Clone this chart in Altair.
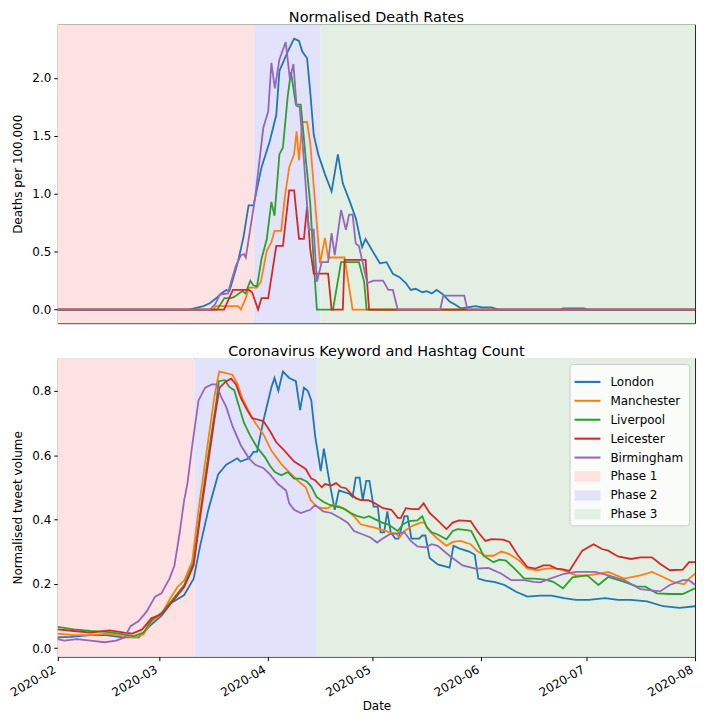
import altair as alt
import pandas as pd

START = pd.Timestamp("2020-02-01")

cities = ["London", "Manchester", "Liverpool", "Leicester", "Birmingham"]
phases = ["Phase 1", "Phase 2", "Phase 3"]
city_colors = ["#1f77b4", "#ff7f0e", "#2ca02c", "#d62728", "#9467bd"]
phase_colors = ["#fde2e3", "#e2e2fb", "#e3efe3"]

month_ticks = ["2020-02-01", "2020-03-01", "2020-04-01", "2020-05-01",
               "2020-06-01", "2020-07-01", "2020-08-01"]

# ---------------- deaths (days since 2020-02-01, deaths per 100,000) -------------
london_death_day = [0, 37.5, 41.6, 43.4, 45.3, 46.7, 48.1, 49.0, 50.0, 51.5, 53.0, 54.5, 55.9, 58.2, 60.5,
                    62.4, 63.3, 65.7, 67.5, 68.9, 69.8, 71.2, 72.1, 73.1, 74.4, 76.3, 78.2, 80.0, 81.4, 83.2,
                    85.1, 86.9, 87.9, 90.2, 92.0, 93.9, 95.7, 97.6, 99.4, 100.8, 102.2, 104.1, 105.4, 106.8, 108.2,
                    110.1, 111.9, 113.7, 115.2, 117.0, 119.3, 121.2, 123.9, 125.8, 143.5, 144.3, 150.3, 151.2, 182]
london_death = [0, 0, 0.03, 0.055, 0.10, 0.14, 0.17, 0.16, 0.26, 0.42, 0.62, 0.90, 0.90, 1.23, 1.45,
                1.68, 2.06, 2.23, 2.34, 2.32, 2.23, 2.17, 1.88, 1.51, 1.34, 1.17, 1.02, 1.34, 1.09, 0.95,
                0.79, 0.54, 0.61, 0.49, 0.40, 0.41, 0.31, 0.28, 0.23, 0.17, 0.18, 0.15, 0.16, 0.14, 0.17,
                0.13, 0.07, 0.04, 0.01, 0.02, 0.03, 0.02, 0.02, 0, 0, 0.01, 0.01, 0, 0]

manchester_death_day = [0, 44.5, 45, 50.5, 51.5, 52.3, 53.7, 54.6, 56.9, 58.0, 59.7, 61.0, 61.9, 63.8, 64.8,
                        66.1, 67.5, 68.2, 68.9, 69.8, 71.2, 72.1, 73.5, 74.9, 76.3, 77.2, 81.9, 84.2, 182]
manchester_death = [0, 0, 0.03, 0.03, 0.03, 0.0, 0.10, 0.19, 0.19, 0.24, 0.51, 0.58, 0.68, 0.68, 0.96,
                    1.23, 1.34, 1.54, 1.29, 1.62, 1.62, 1.44, 0.92, 0.40, 0.62, 0.45, 0.45, 0, 0]

liverpool_death_day = [0, 45.5, 47.6, 49.5, 50.4, 52.7, 53.6, 55.0, 55.8, 56.9, 58.2, 59.7, 61.0, 61.9, 63.3,
                       64.3, 65.7, 66.6, 68.0, 69.4, 70.8, 72.1, 73.1, 74.0, 78.6, 80.9, 86.0, 87.5, 88.2, 182]
liverpool_death = [0, 0, 0.10, 0.10, 0.11, 0.16, 0.14, 0.25, 0.21, 0.20, 0.44, 0.61, 0.93, 0.81, 1.34,
                   1.40, 1.85, 2.05, 1.77, 1.77, 1.31, 0.92, 0.41, 0, 0, 0.41, 0.41, 0.24, 0, 0]

leicester_death_day = [0, 47.5, 50.0, 54.6, 55.5, 57.2, 58.2, 60.1, 62.4, 64.3, 66.1, 67.5, 68.9, 70.3, 71.2,
                       72.1, 73.1, 77.2, 78.2, 81.4, 81.9, 87.9, 88.9, 182]
leicester_death = [0, 0, 0.17, 0.17, 0.15, 0.0, 0.10, 0.10, 0.55, 0.55, 1.03, 1.03, 0.61, 0.61, 0.89,
                   0.52, 0.31, 0.31, 0, 0, 0.43, 0.43, 0, 0]

birmingham_death_day = [0, 43.5, 45.0, 46.3, 48.6, 49.5, 50.9, 52.3, 53.2, 53.7, 56.4, 58.7, 60.1, 61.0, 62.0,
                        63.3, 65.1, 66.3, 67.3, 68.2, 69.1, 70.3, 71.7, 73.1, 74.0, 75.4, 77.2, 78.2, 79.1, 80.9,
                        82.3, 83.2, 84.2, 85.1, 86.0, 88.4, 90.2, 92.9, 94.4, 95.7, 97.1, 109.2, 110.1, 116.1,
                        117.0, 182]
birmingham_death = [0, 0, 0.05, 0.13, 0.14, 0.24, 0.38, 0.47, 0.48, 0.45, 0.975, 1.57, 1.71, 2.13, 1.91,
                    2.16, 2.31, 1.99, 2.12, 1.76, 1.75, 1.29, 0.69, 0.69, 0.24, 0.41, 0.41, 0.66, 0.47, 0.86,
                    0.69, 0.82, 0.82, 0.57, 0.55, 0.23, 0.25, 0.25, 0.17, 0.17, 0, 0, 0.12, 0.12,
                    0, 0]

# ---------------- tweets (days since 2020-02-01, normalised volume) -------------
london_tweet_day = [0, 3.7, 9.3, 13.9, 18.5, 23.1, 26.8, 29.6, 32.4, 36.1, 38.8, 40.7, 43.0, 45.8, 48.1,
                    51.3, 52.2, 54.6, 55.9, 56.9, 58.7, 61.0, 61.9, 63.0, 64.3, 66.1, 68.0, 69.2, 70.3, 71.4,
                    72.4, 73.5, 75.1, 76.0, 77.7, 79.1, 80.3, 83.2, 84.2, 85.1, 86.2, 87.1, 88.1, 89.0, 90.2,
                    91.4, 92.2, 93.2, 94.1, 95.1, 96.4, 97.3, 99.0, 99.9, 101.0, 103.2, 104.1, 105.0, 106.2, 108.5,
                    111.9, 113.0, 114.6, 117.5, 119.1, 120.1, 122.1, 124.9, 127.6, 130.9, 134.1, 137.8, 141.0,
                    144.6, 148.0, 151.7, 156.3, 160.0, 163.7, 168.3, 172.9, 177.6, 182]
london_tweet = [0.033, 0.035, 0.04, 0.04, 0.033, 0.033, 0.074, 0.10, 0.14, 0.165, 0.216, 0.32, 0.43, 0.54, 0.57,
                0.59, 0.58, 0.59, 0.61, 0.61, 0.706, 0.81, 0.84, 0.80, 0.86, 0.84, 0.83, 0.74, 0.81, 0.80,
                0.77, 0.66, 0.55, 0.62, 0.51, 0.43, 0.49, 0.48, 0.47, 0.53, 0.53, 0.46, 0.52, 0.52, 0.44,
                0.44, 0.36, 0.36, 0.425, 0.36, 0.34, 0.34, 0.41, 0.41, 0.34, 0.34, 0.35, 0.35, 0.28, 0.26,
                0.25, 0.318, 0.31, 0.30, 0.29, 0.216, 0.21, 0.205, 0.196, 0.175, 0.16, 0.163, 0.163,
                0.155, 0.15, 0.15, 0.155, 0.15, 0.15, 0.145, 0.13, 0.125, 0.13]

manchester_tweet_day = [0, 4.6, 9.3, 13.9, 18.5, 22.2, 24.5, 26.8, 29.6, 31.9, 34.2, 36.1, 38.4, 40.2, 42.5,
                        44.8, 46.1, 47.2, 49.9, 51.3, 52.7, 54.6, 56.4, 58.7, 61.0, 63.8, 66.6, 68.9, 70.8, 72.2,
                        73.9, 75.4, 77.2, 78.6, 80.5, 82.3, 84.6, 86.5, 88.4, 90.2, 92.0, 94.8, 96.7, 97.6, 99.0,
                        101.3, 103.6, 104.7, 106.4, 108.5, 111.0, 112.8, 115.1, 117.9, 119.8, 122.1, 124.4, 126.7,
                        129.0, 131.8, 134.1, 136.9, 139.6, 141.5, 144.3, 148.0, 151.2, 154.4, 157.2, 161.8, 166.4,
                        169.7, 172.9, 175.7, 178.9, 180.3, 182]
manchester_tweet = [0.045, 0.04, 0.04, 0.045, 0.037, 0.033, 0.043, 0.083, 0.104, 0.15, 0.19, 0.21, 0.27, 0.43, 0.61,
                    0.787, 0.86, 0.857, 0.85, 0.822, 0.777, 0.736, 0.70, 0.665, 0.614, 0.573, 0.542, 0.517, 0.50, 0.46,
                    0.44, 0.435, 0.435, 0.445, 0.44, 0.43, 0.41, 0.385, 0.38, 0.375, 0.37, 0.36, 0.355, 0.344, 0.364,
                    0.38, 0.39, 0.39, 0.36, 0.34, 0.318, 0.33, 0.333, 0.323, 0.302, 0.287, 0.287, 0.30,
                    0.292, 0.272, 0.247, 0.242, 0.247, 0.249, 0.242, 0.226, 0.226, 0.231, 0.237, 0.216, 0.226,
                    0.237, 0.221, 0.206, 0.198, 0.216, 0.231]

liverpool_tweet_day = [0, 4.6, 9.3, 13.9, 18.5, 21.7, 24.5, 26.8, 29.6, 32.4, 36.1, 38.8, 40.7, 43.0, 45.3,
                       46.0, 47.7, 49.0, 50.4, 51.8, 53.2, 55.0, 56.9, 59.2, 60.6, 62.0, 63.8, 65.7, 67.5, 69.4,
                       71.2, 72.4, 73.9, 75.8, 77.7, 79.5, 81.4, 83.7, 85.6, 87.5, 88.9, 90.7, 92.6, 94.4, 97.1,
                       98.5, 100.3, 102.7, 104.1, 105.4, 106.8, 108.5, 111.0, 112.8, 114.2, 116.9, 118.1, 119.8,
                       121.6, 124.4, 126.2, 128.0, 130.9, 133.2, 136.0, 139.2, 141.5, 144.3, 147.0, 151.2, 154.4,
                       157.2, 161.8, 165.5, 167.8, 171.1, 174.8, 178.5, 182]
liverpool_tweet = [0.066, 0.058, 0.053, 0.05, 0.043, 0.037, 0.048, 0.088, 0.109, 0.145, 0.196, 0.267, 0.42, 0.60, 0.767,
                   0.83, 0.833, 0.812, 0.802, 0.75, 0.70, 0.66, 0.624, 0.593, 0.567, 0.547, 0.537, 0.547, 0.527, 0.527,
                   0.517, 0.502, 0.47, 0.455, 0.445, 0.44, 0.435, 0.42, 0.41, 0.405, 0.41, 0.40, 0.39, 0.384, 0.364,
                   0.384, 0.395, 0.397, 0.41, 0.375, 0.36, 0.353, 0.338, 0.364, 0.37, 0.367, 0.364, 0.328,
                   0.287, 0.267, 0.275, 0.272, 0.242, 0.216, 0.216, 0.213, 0.206, 0.186, 0.22, 0.226, 0.196,
                   0.221, 0.206, 0.191, 0.191, 0.17, 0.168, 0.168, 0.186]

leicester_tweet_day = [0, 4.6, 9.3, 14.8, 19.0, 21.3, 24.1, 26.8, 29.6, 32.4, 36.1, 38.8, 40.7, 43.0, 44.8,
                       46.2, 48.1, 49.5, 50.9, 52.3, 54.1, 55.5, 57.3, 58.7, 60.6, 62.4, 64.8, 67.5, 69.4, 70.8,
                       72.4, 73.5, 75.4, 76.3, 78.1, 79.5, 80.9, 82.3, 83.7, 85.1, 86.5, 88.7, 90.6, 92.9, 95.3,
                       97.1, 98.0, 99.4, 101.3, 103.1, 104.5, 106.2, 108.5, 111.0, 112.8, 114.6, 117.9, 119.8,
                       122.1, 123.9, 127.2, 129.0, 131.3, 134.1, 136.4, 138.7, 140.6, 142.4, 144.3, 146.1, 149.8,
                       153.0, 155.4, 157.2, 160.0, 163.7, 166.4, 169.7, 172.0, 174.8, 178.5, 180.3, 182]
leicester_tweet = [0.058, 0.053, 0.048, 0.055, 0.048, 0.045, 0.058, 0.093, 0.104, 0.14, 0.19, 0.257, 0.41, 0.58, 0.716,
                   0.81, 0.83, 0.838, 0.82, 0.777, 0.74, 0.715, 0.71, 0.706, 0.675, 0.64, 0.613, 0.58, 0.567, 0.557,
                   0.527, 0.522, 0.50, 0.51, 0.505, 0.513, 0.50, 0.497, 0.48, 0.466, 0.46, 0.46, 0.45, 0.435, 0.43,
                   0.405, 0.405, 0.435, 0.432, 0.432, 0.45, 0.42, 0.397, 0.37, 0.39, 0.397, 0.395, 0.364,
                   0.333, 0.339, 0.337, 0.33, 0.29, 0.252, 0.247, 0.257, 0.257, 0.247, 0.245, 0.24, 0.303,
                   0.323, 0.308, 0.303, 0.285, 0.277, 0.282, 0.282, 0.262, 0.242, 0.244, 0.267, 0.267]

birmingham_tweet_day = [0, 1.85, 5.5, 9.3, 13.4, 16.7, 19.0, 20.8, 23.1, 25.4, 27.8, 29.6, 31.9, 33.3, 34.7,
                        36.1, 37.0, 38.4, 40.2, 42.1, 44.0, 45.3, 46.7, 48.1, 49.9, 52.3, 54.6, 56.4, 58.7, 60.6,
                        62.9, 65.2, 66.1, 67.5, 69.4, 72.1, 73.5, 75.8, 78.1, 80.5, 82.8, 84.6, 87.0, 89.3, 91.2,
                        92.5, 94.8, 97.1, 99.0, 100.8, 102.7, 105.0, 106.8, 108.5, 111.9, 115.6, 119.3, 123.0,
                        126.7, 129.5, 133.2, 135.9, 137.8, 140.6, 144.6, 148.0, 153.5, 157.2, 161.8, 166.4, 172.0,
                        174.8, 178.5, 180.3, 182]
birmingham_tweet = [0.028, 0.023, 0.028, 0.023, 0.018, 0.023, 0.033, 0.068, 0.084, 0.114, 0.16, 0.17, 0.216, 0.256, 0.35,
                    0.46, 0.51, 0.63, 0.77, 0.81, 0.82, 0.82, 0.78, 0.75, 0.69, 0.63, 0.59, 0.57, 0.56, 0.54,
                    0.51, 0.49, 0.45, 0.43, 0.42, 0.43, 0.445, 0.425, 0.42, 0.405, 0.39, 0.364, 0.354, 0.344, 0.328,
                    0.338, 0.354, 0.357, 0.36, 0.333, 0.316, 0.313, 0.323, 0.318, 0.287, 0.257, 0.247, 0.249,
                    0.231, 0.211, 0.211, 0.206, 0.204, 0.216, 0.231, 0.237, 0.237, 0.226, 0.211, 0.183, 0.176,
                    0.196, 0.211, 0.211, 0.196]

# phase periods (start, end) for each panel
death_phase_start = ["2020-02-01", "2020-03-28", "2020-04-16"]
death_phase_end = ["2020-03-28", "2020-04-16", "2020-08-01"]
tweet_phase_start = ["2020-02-01", "2020-03-11", "2020-04-15"]
tweet_phase_end = ["2020-03-11", "2020-04-15", "2020-08-01"]

death_series = [(london_death_day, london_death), (manchester_death_day, manchester_death),
                (liverpool_death_day, liverpool_death), (leicester_death_day, leicester_death),
                (birmingham_death_day, birmingham_death)]
tweet_series = [(london_tweet_day, london_tweet), (manchester_tweet_day, manchester_tweet),
                (liverpool_tweet_day, liverpool_tweet), (leicester_tweet_day, leicester_tweet),
                (birmingham_tweet_day, birmingham_tweet)]


def series_frame(days, vals, name):
    n = min(len(days), len(vals))
    return pd.DataFrame({
        "date": [START + pd.to_timedelta(d, unit="D") for d in days[:n]],
        "value": vals[:n],
        "series": name,
    })


def phase_frame(starts, ends):
    return pd.DataFrame({"start": pd.to_datetime(starts), "end": pd.to_datetime(ends), "series": phases})


domain = cities + phases
rng = city_colors + phase_colors
LINE_SYM = "M-1,-0.08H1V0.08H-1Z"
RECT_SYM = "M-1,-0.4H1V0.4H-1Z"

legend = alt.Legend(
    title=None, orient="top-right", offset=6,
    fillColor="rgba(255,255,255,0.8)", strokeColor="#cccccc", cornerRadius=3, padding=5,
    labelFont="DejaVu Sans", labelFontSize=12, labelColor="black",
    symbolSize=676, symbolStrokeWidth=0, symbolOpacity=1, labelOffset=10, rowPadding=0,
)

x_domain = [alt.DateTime(year=2020, month=2, date=1), alt.DateTime(year=2020, month=8, date=1)]
x_scale = alt.Scale(domain=x_domain, nice=False, padding=0)
tick_vals = [alt.DateTime(year=int(s[:4]), month=int(s[5:7]), date=1) for s in month_ticks]

W, H = 640, 300


def panel(series, pstart, pend, ydomain, yticks, ytitle, title, show_x, with_legend):
    xaxis = alt.Axis(values=tick_vals, format="%Y-%m", labelAngle=330, labelAlign="right",
                     labelBaseline="top", labelOffset=-6, title="Date", labelPadding=3,
                     titlePadding=2) if show_x else None
    y_enc = alt.Y("value:Q", scale=alt.Scale(domain=ydomain, nice=False, zero=False),
                  axis=alt.Axis(values=yticks, format=".1f", title=ytitle, titlePadding=7))
    rect = alt.Chart(phase_frame(pstart, pend)).mark_rect(opacity=1).encode(
        x=alt.X("start:T", scale=x_scale, axis=xaxis),
        x2="end:T",
        fill=alt.Fill("series:N", scale=alt.Scale(domain=phases, range=phase_colors), legend=None),
    )
    layers = [rect]
    for (days, vals), name, col in zip(series, cities, city_colors):
        layers.append(
            alt.Chart(series_frame(days, vals, name)).mark_line(strokeWidth=1.8, color=col).encode(
                x=alt.X("date:T", scale=x_scale, axis=xaxis),
                y=y_enc,
            )
        )
    if with_legend:
        # legend-only layer: no rows are drawn, it only carries the legend
        key = pd.DataFrame({"date": [START], "value": [0.0], "series": ["London"]})
        layers.append(
            alt.Chart(key).transform_filter("false").mark_point(filled=True, opacity=1, size=676).encode(
                x=alt.X("date:T", scale=x_scale, axis=xaxis),
                y=y_enc,
                color=alt.Color("series:N", scale=alt.Scale(domain=domain, range=rng), legend=legend),
                shape=alt.Shape("series:N",
                                scale=alt.Scale(domain=domain,
                                                range=[LINE_SYM] * len(cities) + [RECT_SYM] * len(phases)),
                                legend=legend),
            )
        )
    return alt.layer(*layers).properties(width=W, height=H, title=title)


top = panel(death_series, death_phase_start, death_phase_end, [-0.117, 2.462],
            [0, 0.5, 1.0, 1.5, 2.0], "Deaths per 100,000", "Normalised Death Rates", False, False)
bottom = panel(tweet_series, tweet_phase_start, tweet_phase_end, [-0.027, 0.902],
               [0, 0.2, 0.4, 0.6, 0.8], "Normalised tweet volume",
               "Coronavirus Keyword and Hashtag Count", True, True)

chart = alt.vconcat(top, bottom, spacing=19).resolve_scale(
    color="independent", shape="independent", fill="independent"
).resolve_legend(
    color="independent", shape="independent", fill="independent"
).properties(
    padding={"left": -1, "top": 0, "right": 0, "bottom": 0}
).configure_view(
    stroke="#222222", strokeWidth=1
).configure_axis(
    labelFont="DejaVu Sans", labelFontSize=12, labelColor="black",
    titleFont="DejaVu Sans", titleFontSize=12, titleFontWeight="normal", titleColor="black",
    tickColor="black", tickSize=4, labelPadding=3, domain=False, grid=False,
).configure_title(
    font="DejaVu Sans", fontSize=14.5, fontWeight="normal", color="black", offset=-1,
)

chart.save("out.html", embed_options={"renderer": "svg", "actions": False})
